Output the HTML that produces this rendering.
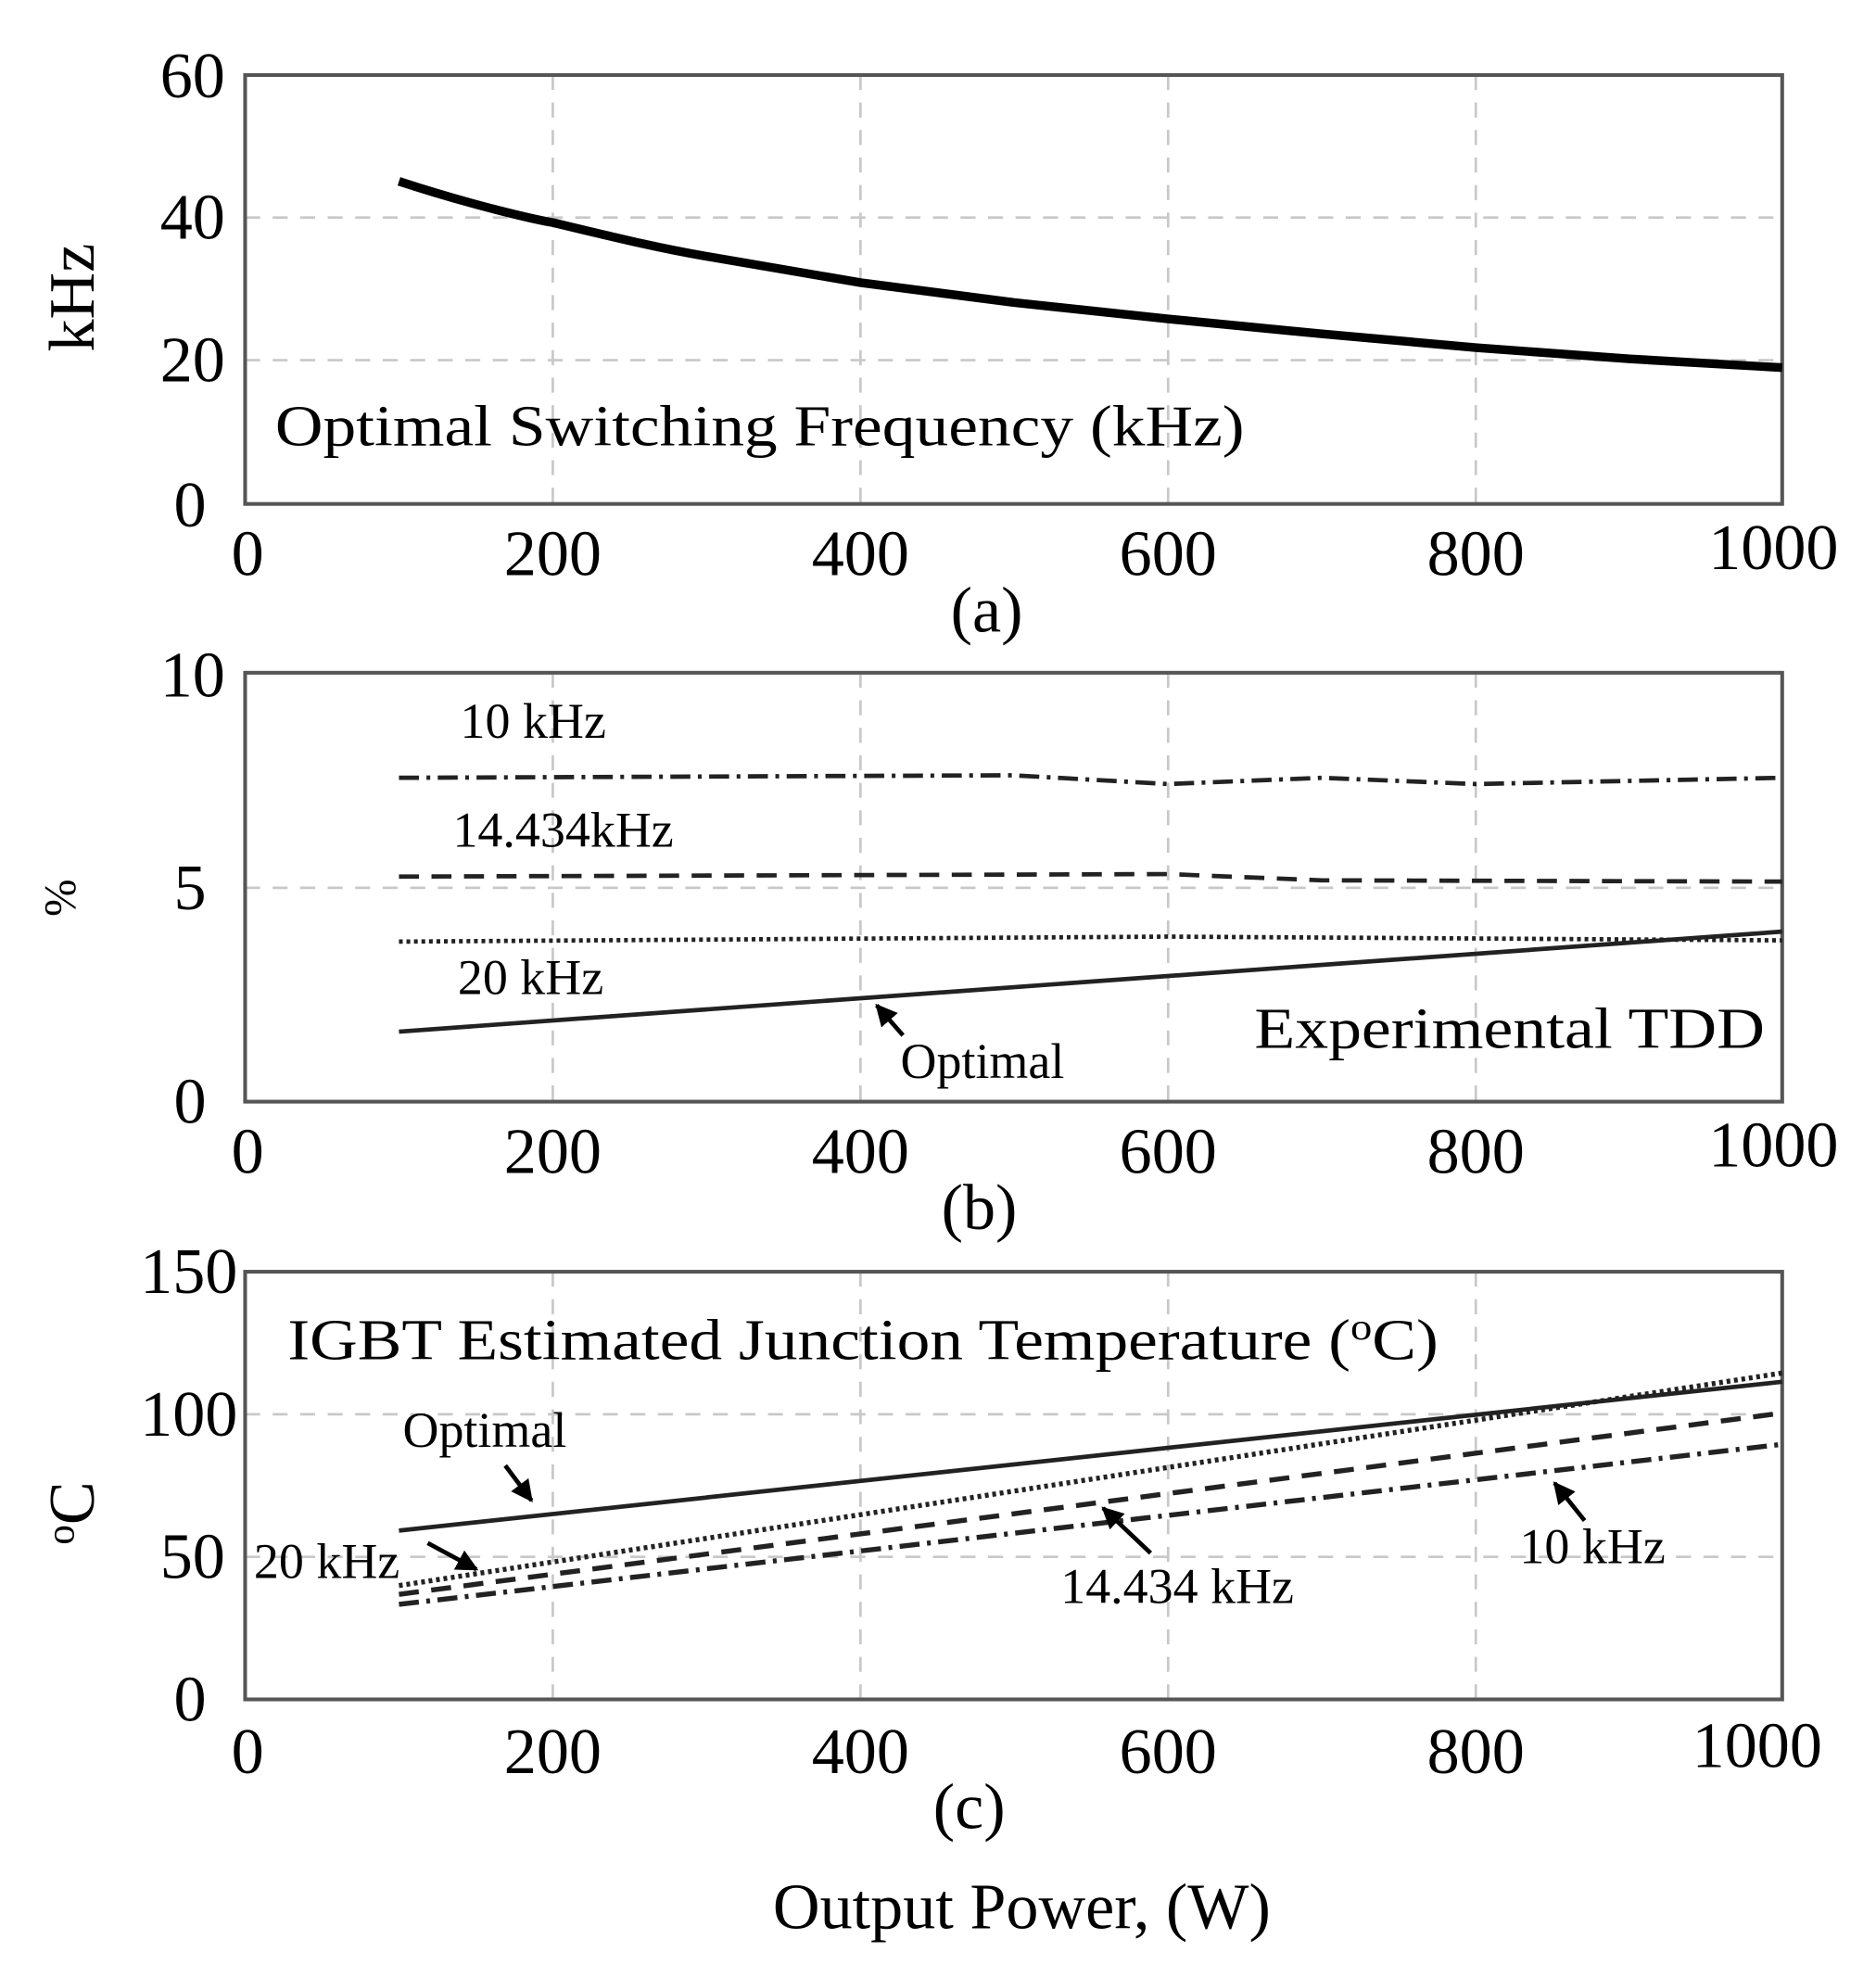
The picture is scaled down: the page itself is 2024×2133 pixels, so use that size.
<!DOCTYPE html>
<html><head><meta charset="utf-8"><style>html,body{margin:0;padding:0;background:#fff}svg{display:block}</style></head>
<body>
<svg width="2024" height="2133" viewBox="0 0 1500 1581" preserveAspectRatio="none" xmlns="http://www.w3.org/2000/svg" font-family="Liberation Serif, serif" fill="#000">
<defs>
<marker id="ah" viewBox="0 0 10 10" refX="9" refY="5" markerWidth="5" markerHeight="5" orient="auto"><path d="M0,0 L10,5 L0,10 z" fill="#000"/></marker>
</defs>
<g stroke="#c8c8c8" stroke-width="2" stroke-dasharray="12,10" fill="none">
<path d="M442,60V403M688,60V403M934,60V403M1180,60V403M196,174H1425M196,288H1425"/>
<path d="M442,538V881M688,538V881M934,538V881M1180,538V881M196,710H1425"/>
<path d="M442,1017V1359M688,1017V1359M934,1017V1359M1180,1017V1359M196,1131H1425M196,1245H1425"/>
</g>
<g stroke="#555" stroke-width="3" fill="none">
<rect x="196" y="60" width="1229" height="343"/>
<rect x="196" y="538" width="1229" height="343"/>
<rect x="196" y="1017" width="1229" height="342"/>
</g>
<g font-size="52" text-anchor="end">
<text x="180" y="78">60</text><text x="180" y="191">40</text><text x="180" y="305">20</text><text x="165" y="421">0</text>
<text x="180" y="557">10</text><text x="165" y="727">5</text><text x="165" y="898">0</text>
<text x="190" y="1034">150</text><text x="190" y="1148">100</text><text x="180" y="1262">50</text><text x="165" y="1376">0</text>
</g>
<g font-size="52" text-anchor="middle">
<text x="198" y="460">0</text><text x="442" y="460">200</text><text x="688" y="460">400</text><text x="934" y="460">600</text><text x="1180" y="460">800</text><text x="1418" y="455">1000</text>
<text x="198" y="938">0</text><text x="442" y="938">200</text><text x="688" y="938">400</text><text x="934" y="938">600</text><text x="1180" y="938">800</text><text x="1418" y="933">1000</text>
<text x="198" y="1418">0</text><text x="442" y="1418">200</text><text x="688" y="1418">400</text><text x="934" y="1418">600</text><text x="1180" y="1418">800</text><text x="1405" y="1413">1000</text>
<text x="789" y="505">(a)</text><text x="783" y="983">(b)</text><text x="775" y="1462">(c)</text>
<text x="817" y="1542">Output Power, (W)</text>
</g>
<text font-size="52" transform="translate(75,238) rotate(-90)" text-anchor="middle">kHz</text>
<text font-size="36" transform="translate(60,718) rotate(-90)" text-anchor="middle">%</text>
<text font-size="52" transform="translate(75,1210) rotate(-90)" text-anchor="middle"><tspan font-size="32" dy="-16">o</tspan><tspan dy="16">C</tspan></text>
<!-- panel a -->
<path d="M319,145 C380,165 430,176 442,178 C500,192 530,199 565,205 L688,226 L811,242 L934,255 L1057,267 L1180,278 L1303,287 L1425,294" fill="none" stroke="#000" stroke-width="7"/>
<text x="220" y="356" font-size="46" textLength="775" lengthAdjust="spacingAndGlyphs">Optimal Switching Frequency (kHz)</text>
<!-- panel b -->
<g fill="none" stroke="#222">
<path d="M319,622 L810,620 L934,627 L1057,622 L1180,627 L1425,622" stroke-width="3.5" stroke-dasharray="16,6,3,6"/>
<path d="M319,701 L934,699 L1057,704 L1425,705" stroke-width="3.5" stroke-dasharray="16,10"/>
<path d="M319,753 L934,749 L1425,752" stroke-width="3.5" stroke-dasharray="3,3"/>
<path d="M319,825 L1425,745" stroke-width="3.5"/>
<path d="M722,828 L701,804" stroke="#000" stroke-width="3.5" marker-end="url(#ah)"/>
</g>
<g font-size="40">
<text x="368" y="590">10 kHz</text><text x="362" y="677">14.434kHz</text><text x="366" y="795">20 kHz</text>
<text x="720" y="862">Optimal</text>
<text x="1003" y="838" font-size="46" textLength="408" lengthAdjust="spacingAndGlyphs">Experimental TDD</text>
</g>
<!-- panel c -->
<g fill="none" stroke="#222">
<path d="M319,1224 L1425,1105" stroke-width="3.5"/>
<path d="M319,1268 L1425,1098" stroke-width="4" stroke-dasharray="3,3"/>
<path d="M319,1275 L1425,1130" stroke-width="4" stroke-dasharray="16,10"/>
<path d="M319,1283 L1425,1155" stroke-width="4" stroke-dasharray="16,6,3,6"/>
<g stroke="#000" stroke-width="3.5" marker-end="url(#ah)">
<path d="M404,1172 L425,1200"/><path d="M342,1234 L381,1255"/><path d="M920,1242 L882,1206"/><path d="M1267,1216 L1243,1186"/>
</g>
</g>
<g font-size="40">
<text x="230" y="1087" font-size="46" textLength="920" lengthAdjust="spacingAndGlyphs">IGBT Estimated Junction Temperature (<tspan font-size="30" dy="-16">o</tspan><tspan dy="16">C)</tspan></text>
<text x="322" y="1157">Optimal</text>
<text x="203" y="1262">20 kHz</text>
<text x="848" y="1282">14.434 kHz</text>
<text x="1215" y="1250">10 kHz</text>
</g>
</svg>
</body></html>
